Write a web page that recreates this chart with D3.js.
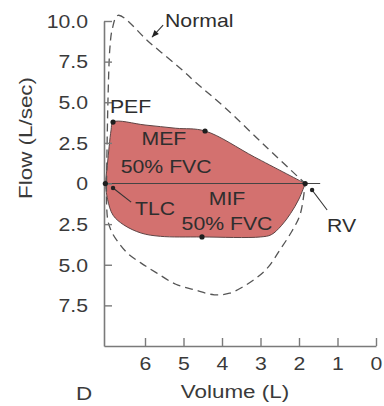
<!DOCTYPE html>
<html>
<head>
<meta charset="utf-8">
<script src="https://cdn.jsdelivr.net/npm/d3@7"></script>
<style>
html,body{margin:0;padding:0;background:#fff;}
svg{display:block;}
text{font-family:"Liberation Sans",Arial,Helvetica,sans-serif;}
</style>
</head>
<body>
<svg id="c" width="384" height="406"></svg>
<script>
// ---- data: [volume (L), flow (L/sec)]; inspiratory flow negative ----
const normalExpiratory = [[7.0,0],[6.96,5.3],[6.91,8.4],[6.85,9.5],[6.7,10.35],[5.87,8.65],[5.04,7.0],[4.70,6.26],[3.92,4.66],[2.83,2.2],[1.84,0]];
const normalInspiratory = [[7.0,0],[6.97,-2.2],[6.86,-3.0],[6.7,-3.6],[6.45,-4.3],[6.1,-4.9],[5.7,-5.5],[5.2,-6.2],[4.7,-6.55],[4.2,-6.85],[3.8,-6.75],[3.45,-6.35],[3.1,-5.8],[2.8,-5.15],[2.5,-4.1],[2.2,-3.0],[1.97,-1.9],[1.84,0]];
const patientExpiratory = [[7.03,0],[6.98,1.1],[6.93,2.3],[6.88,3.3],[6.83,3.78],[6.0,3.6],[5.2,3.4],[4.44,3.23],[3.15,1.62],[1.84,0]];
const patientInspiratory = [[7.03,0],[6.97,-1.0],[6.83,-1.95],[6.55,-2.55],[6.1,-3.05],[5.6,-3.25],[4.52,-3.29],[3.0,-3.29],[2.72,-3.15],[2.46,-2.6],[2.22,-1.85],[2.0,-0.95],[1.84,0]];
const keyPoints = [["TLC",7.03,0],["PEF",6.83,3.78],["MEF",4.44,3.23],["MIF",4.52,-3.29],["RV",1.84,0]];
const zeroLine = [[7.03,0],[1.45,0]];
const pointers = [
  {from:[5.53,9.75], to:[5.82,9.0], head:"arrow"},
  {from:[6.36,-1.15], to:[6.83,-0.28], head:"dot"},
  {from:[1.27,-1.63], to:[1.66,-0.4], head:"dot"}
];
const labels = [
  {t:"Normal", v:5.48, f:9.63, a:"start"},
  {t:"PEF", v:6.91, f:4.34, a:"start"},
  {t:"MEF", v:5.51, f:2.37, a:"middle"},
  {t:"50% FVC", v:5.45, f:0.65, a:"middle"},
  {t:"TLC", v:6.26, f:-1.94, a:"start"},
  {t:"MIF", v:3.87, f:-1.32, a:"middle"},
  {t:"50% FVC", v:3.87, f:-2.86, a:"middle"},
  {t:"RV", v:1.27, f:-2.98, a:"start"}
];
const xTicks = [6,5,4,3,2,1,0];
const yTicks = [10,7.5,5,2.5,0,-2.5,-5,-7.5];
const xTitle = "Volume (L)";
const yTitle = "Flow (L/sec)";
const panelLabel = "D";

// ---- drawing ----
const SX = 1.18, FS = 18, TXT = "#3a3a3a", AX = "#7a7a7a";
const svg = d3.select("#c");
const x = d3.scaleLinear().domain([7.065,0]).range([104,376]);
const y = d3.scaleLinear().domain([10,-10]).range([21,346]);
const line = d3.line().x(d=>x(d[0])).y(d=>y(d[1])).curve(d3.curveCatmullRom.alpha(0.5));

// patient loop (filled)
const p1 = line(patientExpiratory);
const p2 = line(patientInspiratory.slice().reverse()).replace(/^M/,"L");
svg.append("path").attr("d", p1 + p2 + "Z")
  .attr("fill","#d3716f").attr("stroke","#5e4444").attr("stroke-width",1);

// normal loop (dashed)
[normalExpiratory, normalInspiratory].forEach(arr=>{
  svg.append("path").attr("d", line(arr)).attr("fill","none")
    .attr("stroke","#555").attr("stroke-width",1.3).attr("stroke-dasharray","8,5");
});

// zero line
svg.append("path").attr("d", d3.line().x(d=>x(d[0])).y(d=>y(d[1]))(zeroLine))
  .attr("stroke","#444").attr("stroke-width",1.2).attr("fill","none");

// axes
const yAxis = svg.append("g").attr("transform",`translate(${x(7.065)},0)`)
  .call(d3.axisLeft(y).tickValues(yTicks)
    .tickFormat(d=> d===0 ? "0" : Math.abs(d).toFixed(1))
    .tickSizeInner(-8).tickSizeOuter(0));
const xAxis = svg.append("g").attr("transform",`translate(0,${y(-10)})`)
  .call(d3.axisBottom(x).tickValues(xTicks).tickFormat(d3.format("d"))
    .tickSizeInner(-8).tickSizeOuter(0));
[yAxis,xAxis].forEach(g=>{
  g.select(".domain").attr("stroke",AX).attr("stroke-width",1.6);
  g.selectAll(".tick line").attr("stroke",AX).attr("stroke-width",1.4);
  g.selectAll("text").attr("font-size",FS).attr("fill",TXT)
    .attr("font-family","'Liberation Sans',Arial,sans-serif");
});
yAxis.selectAll("text").attr("x",0).attr("dy","0.35em")
  .attr("transform",`translate(-16,0) scale(${SX},1)`);
xAxis.selectAll("text").attr("y",0).attr("dy",0)
  .attr("transform",`translate(0,24) scale(${SX},1)`);

// pointers
pointers.forEach(p=>{
  const x1=x(p.from[0]), y1=y(p.from[1]), x2=x(p.to[0]), y2=y(p.to[1]);
  svg.append("line").attr("x1",x1).attr("y1",y1).attr("x2",x2).attr("y2",y2)
    .attr("stroke","#333").attr("stroke-width",1.1);
  if(p.head==="dot"){
    svg.append("circle").attr("cx",x2).attr("cy",y2).attr("r",2.2).attr("fill","#222");
  } else {
    const ang = Math.atan2(y2-y1,x2-x1)*180/Math.PI;
    svg.append("path").attr("d","M0,0L-7,-3L-7,3Z").attr("fill","#222")
      .attr("transform",`translate(${x2},${y2}) rotate(${ang})`);
  }
});

// key points
svg.selectAll("circle.kp").data(keyPoints).join("circle").attr("class","kp")
  .attr("cx",d=>x(d[1])).attr("cy",d=>y(d[2])).attr("r",2.6).attr("fill","#1e1e1e");

// labels
function txt(s, px, py, anchor, extra, fs){
  return svg.append("text").text(s).attr("text-anchor",anchor)
    .attr("font-size",fs||FS).attr("fill",TXT)
    .attr("transform",`translate(${px},${py}) ${extra||""} scale(${SX},1)`);
}
labels.forEach(l=> txt(l.t, x(l.v), y(l.f), l.a).attr("fill","#2e2e2e"));
txt(xTitle, 235, 398, "middle", "", 19);
txt(panelLabel, 84, 400, "middle", "", 19);
txt(yTitle, 32, 138, "middle", "rotate(-90)", 19);
</script>
</body>
</html>
